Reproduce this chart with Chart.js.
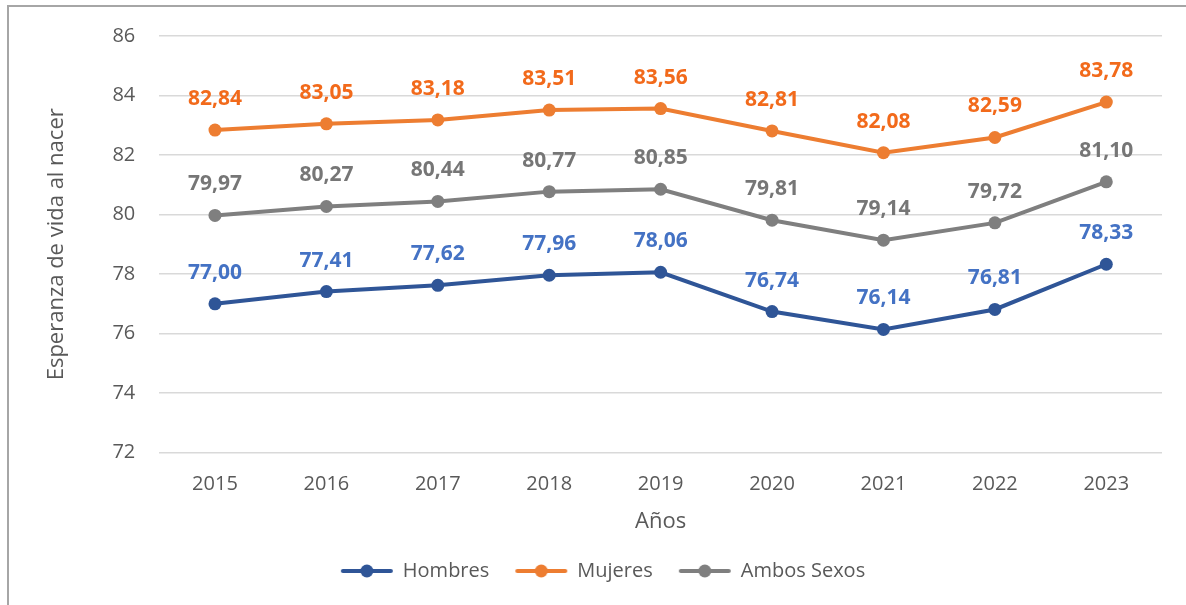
<!DOCTYPE html>
<html><head><meta charset="utf-8">
<script src="https://cdn.jsdelivr.net/npm/chart.js@4"></script>
<style>
html,body{margin:0;padding:0;background:#fff;overflow:hidden}
#wrap{position:absolute;left:0;top:0;width:1186px;height:605px}
#frame{position:absolute;left:7px;top:5px;width:1200px;height:620px;border:2px solid #A6A6A6;box-sizing:border-box}
canvas{position:absolute;left:0;top:0}
</style></head>
<body><div id="wrap"><div id="frame"></div><canvas id="c" width="1186" height="605"></canvas></div>
<script>
const years = ['2015','2016','2017','2018','2019','2020','2021','2022','2023'];
const hombres = [77.00,77.41,77.62,77.96,78.06,76.74,76.14,76.81,78.33];
const mujeres = [82.84,83.05,83.18,83.51,83.56,82.81,82.08,82.59,83.78];
const ambos = [79.97,80.27,80.44,80.77,80.85,79.81,79.14,79.72,81.10];
const seriesNames = ['Hombres','Mujeres','Ambos Sexos'];
const lineColors = ['#2F5597','#ED7D31','#7F7F7F'];
const labelColors = ['#4472C4','#F26A1B','#767676'];

function legendIcon(color){
  const c=document.createElement('canvas');c.width=54;c.height=18;
  const x=c.getContext('2d');
  x.strokeStyle=color;x.lineWidth=4;x.lineCap='round';
  x.beginPath();x.moveTo(3,9);x.lineTo(51,9);x.stroke();
  x.fillStyle=color;x.beginPath();x.arc(27,9,6.5,0,Math.PI*2);x.fill();
  return c;
}

const labelPlugin={id:'vals',afterDatasetsDraw(chart){
  const ctx=chart.ctx;ctx.save();
  ctx.font='bold 21px "Open Sans"';ctx.textAlign='center';ctx.textBaseline='middle';
  chart.data.datasets.forEach((ds,i)=>{
    const meta=chart.getDatasetMeta(i);
    ctx.fillStyle=labelColors[i];
    meta.data.forEach((pt,j)=>{
      ctx.fillText(ds.data[j].toFixed(2).replace('.',','),pt.x,pt.y-31);
    });
  });
  ctx.restore();
}};

const data={labels:years,datasets:[hombres,mujeres,ambos].map((d,i)=>({
  label:seriesNames[i],data:d,borderColor:lineColors[i],backgroundColor:lineColors[i],
  borderWidth:4,pointRadius:6.5,pointHoverRadius:6.5,pointBackgroundColor:lineColors[i],
  pointBorderWidth:0,tension:0,pointStyle:'circle'
}))};

new Chart(document.getElementById('c'),{type:'line',data,
 plugins:[labelPlugin],
 options:{responsive:false,animation:false,devicePixelRatio:1,
  layout:{padding:{left:44,right:24,top:32,bottom:14}},
  plugins:{tooltip:{enabled:false},
   legend:{position:'bottom',labels:{usePointStyle:true,pointStyleWidth:52,boxHeight:18,padding:26,
     color:'#595959',font:{family:'"Open Sans"',size:20},
     generateLabels(chart){return chart.data.datasets.map((ds,i)=>({text:ds.label,pointStyle:legendIcon(lineColors[i]),fillStyle:lineColors[i],strokeStyle:lineColors[i],lineWidth:0,fontColor:'#595959',datasetIndex:i,hidden:false}));}
   }}},
  scales:{
   x:{offset:true,grid:{display:false},border:{display:false},
      ticks:{color:'#595959',font:{family:'"Open Sans"',size:20},padding:12},
      title:{display:true,text:'Años',color:'#595959',font:{family:'"Open Sans"',size:22},padding:{top:0,bottom:0}}},
   y:{min:72,max:86,ticks:{stepSize:2,color:'#595959',font:{family:'"Open Sans"',size:20},padding:24},
      grid:{color:'#D9D9D9',lineWidth:1.5,drawTicks:false},border:{display:false},
      title:{display:true,text:'Esperanza de vida al nacer',color:'#595959',font:{family:'"Open Sans"',size:22},padding:{top:0,bottom:18}}}
  }}});
</script></body></html>
